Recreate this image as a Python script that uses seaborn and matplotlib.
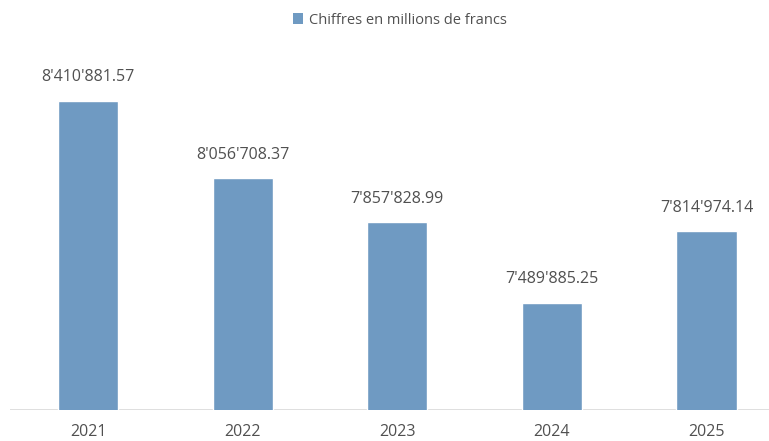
import matplotlib
matplotlib.use("Agg")
import matplotlib.pyplot as plt
from matplotlib.patches import Patch
import seaborn as sns
import pandas as pd

# Data
years = ["2021", "2022", "2023", "2024", "2025"]
values = [8410881.57, 8056708.37, 7857828.99, 7489885.25, 7814974.14]
series_name = "Chiffres en millions de francs"

df = pd.DataFrame({"Year": years, "Value": values})

bar_color = "#6F9AC2"
text_color = "#505050"

sns.set_theme(style="white")
plt.rcParams["font.family"] = ["Open Sans", "DejaVu Sans"]

fig = plt.figure(figsize=(7.69, 4.41), dpi=100)
ax = fig.add_axes([10 / 769, 31 / 441, 759 / 769, 410 / 441])

sns.barplot(data=df, x="Year", y="Value", color=bar_color, width=0.39,
            saturation=1, ax=ax)

ymin = 7_000_000
ax.set_ylim(ymin, ymin + 410 * 4559)
ax.set_xlim(-0.505, 4.405)

# value labels with apostrophe separators
labels = [f"{v:,.2f}".replace(",", "'") for v in values]
ax.bar_label(ax.containers[0], labels=labels, padding=11, fontsize=11.5,
             color=text_color)

# baseline
ax.axhline(ymin, color="#D9D9D9", lw=1.2, zorder=0)

for s in ax.spines.values():
    s.set_visible(False)
ax.set_yticks([])
ax.set_xlabel("")
ax.set_ylabel("")
ax.tick_params(axis="x", length=0, pad=10, labelsize=11.5, labelcolor=text_color)

# legend at top
handle = Patch(facecolor=bar_color, edgecolor="none", label=series_name)
fig.legend(handles=[handle], loc="center", bbox_to_anchor=(400 / 769, 1 - 20 / 441),
           frameon=False, fontsize=10.5, labelcolor=text_color,
           handlelength=0.7, handleheight=0.7, handletextpad=0.4)

fig.savefig("out.png", dpi=100)
